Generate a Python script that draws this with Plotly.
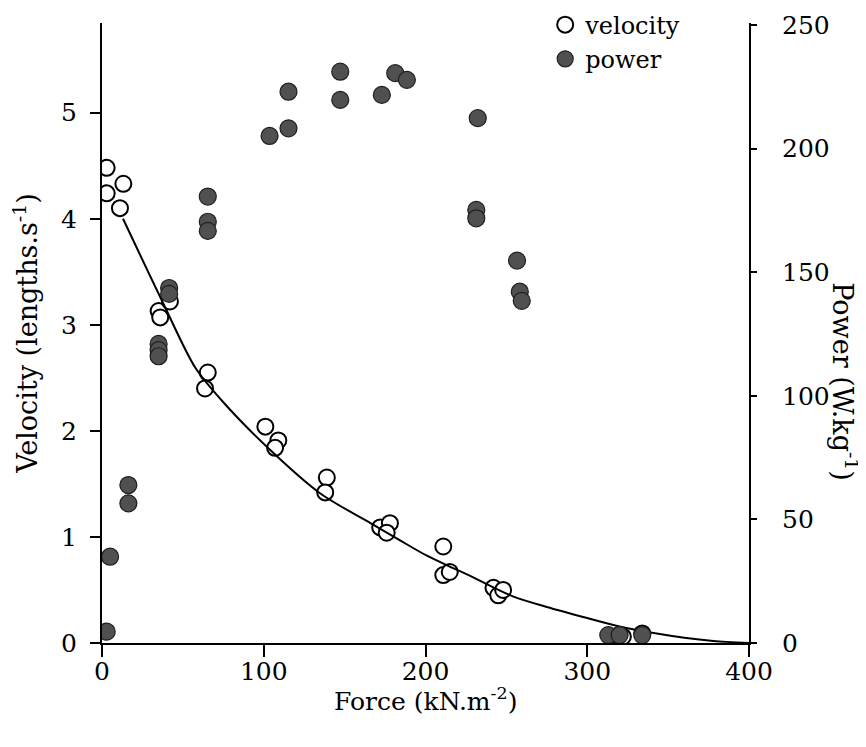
import plotly.graph_objects as go

# ---- data ----
vel_force = [2.9, 2.9, 13.2, 11.1, 35, 36, 42, 65.4, 63.7, 101, 109, 107, 139, 138,
             172, 178, 176, 211, 211, 215, 242, 245, 248, 319, 322, 334]
vel_value = [4.48, 4.24, 4.33, 4.10, 3.13, 3.07, 3.22, 2.55, 2.40, 2.04, 1.91, 1.84, 1.56, 1.42,
             1.09, 1.13, 1.04, 0.91, 0.64, 0.67, 0.52, 0.45, 0.50, 0.07, 0.06, 0.09]

pow_force = [2.9, 5, 16.3, 16.3, 35, 35, 35, 41.5, 41.5, 65.4, 65.4, 65.4,
             103.6, 115.3, 115.3, 147.3, 147.3, 173, 181.3, 188.5,
             232.3, 231.4, 231.4, 256.6, 258.3, 259.5, 313, 320, 334]
pow_value = [4.6, 34.9, 63.9, 56.5, 121, 118.5, 116, 143.6, 141.2, 180.6, 170.4, 166.7,
             205.1, 208.2, 223, 231.1, 219.7, 221.7, 230.5, 227.8,
             212.3, 175.2, 171.8, 154.7, 142.1, 138.4, 3.2, 3.2, 3.2]

fit_force = [13, 37, 57.5, 75, 104, 135, 166, 184, 200, 215, 226, 254, 275, 300, 320, 341, 360, 378, 400]
fit_value = [4.0, 3.23, 2.60, 2.27, 1.82, 1.41, 1.13, 0.97, 0.83, 0.72, 0.645, 0.44, 0.34, 0.235, 0.155, 0.094, 0.05, 0.02, 0.0]

x_ticks = [0, 100, 200, 300, 400]
v_ticks = [0, 1, 2, 3, 4, 5]
p_ticks = [0, 50, 100, 150, 200, 250]

FONT = "DejaVu Serif"

fig = go.Figure()

fig.add_trace(go.Scatter(
    x=vel_force, y=vel_value, mode="markers", name="velocity",
    marker=dict(symbol="circle", size=16, color="white",
                line=dict(color="black", width=2)),
    yaxis="y"))

fig.add_trace(go.Scatter(
    x=fit_force, y=fit_value, mode="lines", showlegend=False,
    line=dict(color="black", width=2, shape="spline", smoothing=0.8),
    yaxis="y"))

fig.add_trace(go.Scatter(
    x=pow_force, y=pow_value, mode="markers", name="power",
    marker=dict(symbol="circle", size=17, color="#505050",
                line=dict(color="#1e1e1e", width=1.2)),
    yaxis="y2"))

fig.update_layout(
    width=866, height=747,
    # the page body adds an 8px offset, so margins are reduced by 8 on left/top
    margin=dict(l=94, r=125, t=15, b=112, autoexpand=False),
    paper_bgcolor="white", plot_bgcolor="white",
    font=dict(family=FONT, size=25, color="black"),
    showlegend=True,
    legend=dict(x=0.685, y=1.033, xanchor="left", yanchor="top",
                bgcolor="rgba(0,0,0,0)", font=dict(family=FONT, size=24),
                tracegroupgap=0),
    xaxis=dict(range=[0, 400], tickvals=x_ticks, ticks="outside", ticklen=12,
               tickwidth=2, tickcolor="black", showline=True, linewidth=2,
               linecolor="black", showgrid=False, zeroline=False, automargin=False,
               ticklabelstandoff=-7),
    yaxis=dict(range=[0, 5.846], tickvals=v_ticks, ticks="outside", ticklen=10,
               tickwidth=2, tickcolor="black", showline=True, linewidth=2,
               linecolor="black", showgrid=False, zeroline=False, automargin=False,
               ticklabelstandoff=8,
               title=dict(text="Velocity (lengths.s<sup>-1</sup>)", font=dict(size=27), standoff=16)),
    yaxis2=dict(range=[0, 250.8], tickvals=p_ticks, ticks="outside", ticklen=6,
                tickwidth=2, tickcolor="black", showline=True, linewidth=2,
                linecolor="black", showgrid=False, zeroline=False, automargin=False,
                overlaying="y", side="right", anchor="x",
                ticklabelstandoff=20),
    annotations=[
        dict(text="Force (kN.m<sup>-2</sup>)", xref="paper", yref="paper",
             x=0.5, y=-0.091, xanchor="center", yanchor="middle", showarrow=False,
             font=dict(family=FONT, size=25, color="black")),
        dict(text="Power (W.kg<sup>-1</sup>)", xref="paper", yref="paper",
             x=1.148, y=0.421, xanchor="center", yanchor="middle",
             textangle=90, showarrow=False,
             font=dict(family=FONT, size=27, color="black"))],
)

fig.write_html("out.html")
